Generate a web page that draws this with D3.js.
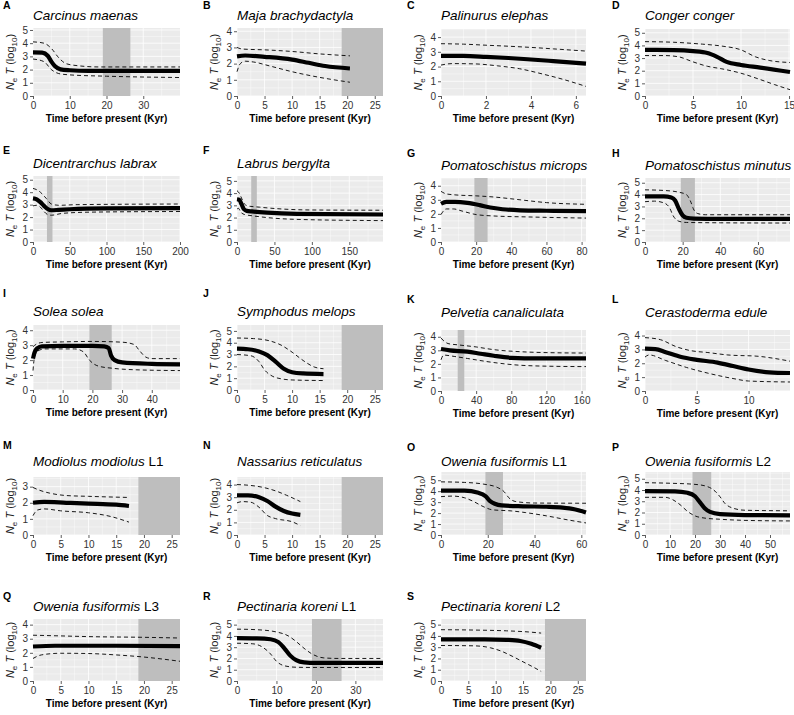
<!DOCTYPE html>
<html lang="en">
<head>
  <meta charset="UTF-8"/>
  <title>NeT through time</title>
  <script src="https://d3js.org/d3.v7.min.js"></script>
  <style>
    body { margin: 0; background: #fff; }
    svg { font-family: 'Liberation Sans', Arial, sans-serif; }
    .tick text { fill: #333; font-size: 10px; }
    .tick line { stroke: #333; stroke-width: 0.8; }
    .domain { display: none; }
  </style>
</head>
<body>
  <svg width="794" height="715"></svg>

  <script>

  const letters = ['A','B','C','D','E','F','G','H','I','J','K','L','M','N','O','P','Q','R','S'];
  const species = ['Carcinus maenas','Maja brachydactyla','Palinurus elephas','Conger conger',
    'Dicentrarchus labrax','Labrus bergylta','Pomatoschistus microps','Pomatoschistus minutus',
    'Solea solea','Symphodus melops','Pelvetia canaliculata','Cerastoderma edule',
    'Modiolus modiolus','Nassarius reticulatus','Owenia fusiformis','Owenia fusiformis',
    'Owenia fusiformis','Pectinaria koreni','Pectinaria koreni'];
  const lineage = ['','','','','','','','','','','','','L1','','L1','L2','L3','L1','L2'];

  const xMax = [40, 26.5, 6.45, 15.1, 200, 195, 82.5, 77, 49.5, 26.5, 165, 14, 26.5, 26.5, 62, 58, 26.5, 37, 26.5];
  const yMax = [5.15, 4.2, 4.55, 5.3, 5.3, 5.4, 4.55, 5.4, 4.35, 5.5, 4.5, 4.4, 3.6, 4.6, 5.75, 5.6, 4.4, 5.5, 5.5];

  const xTicks = [
    [0,10,20,30], [0,5,10,15,20,25], [0,2,4,6], [0,5,10,15],
    [0,50,100,150,200], [0,50,100,150], [0,20,40,60,80], [0,20,40,60],
    [0,10,20,30,40], [0,5,10,15,20,25], [0,40,80,120,160], [0,5,10],
    [0,5,10,15,20,25], [0,5,10,15,20,25], [0,20,40,60], [0,10,20,30,40,50],
    [0,5,10,15,20,25], [0,10,20,30], [0,5,10,15,20,25]
  ];
  const yTicks = [5,4,4,5, 5,5,4,5, 4,5,4,4, 3,4,5,5, 4,5,5].map(n => d3.range(0, n + 1));

  // Last Glacial Maximum (Kyr)
  const lgm = [19, 26.5];

  // [time (Kyr), log10 NeT]
  const medA = [[0,3.3],[2.5,3.28],[4,3.05],[5,2.6],[6,2.25],[7.5,2.02],[10,1.95],[15,1.9],[40,1.9]];
  const hiA = [[0,4.1],[3,4.0],[5,3.6],[7,2.9],[9,2.45],[12,2.3],[18,2.2],[40,2.2]];
  const loA = [[0,2.8],[3,2.6],[5,2.0],[7,1.7],[10,1.6],[20,1.5],[40,1.4]];

  const medB = [[0,2.45],[1.5,2.5],[5,2.42],[10,2.25],[13,2.05],[16,1.85],[20.5,1.7]];
  const hiB = [[0,3.0],[1,2.9],[5,2.85],[10,2.75],[15,2.6],[20.5,2.48]];
  const loB = [[0,1.5],[0.6,2.0],[1.5,2.15],[3,2.1],[6,1.85],[10,1.5],[15,1.15],[20.5,0.85]];

  const medC = [[0,2.72],[1,2.72],[2,2.66],[3,2.58],[4,2.48],[5,2.37],[6.45,2.2]];
  const hiC = [[0,3.55],[1,3.52],[2,3.45],[3,3.38],[4,3.3],[5,3.2],[6.45,3.05]];
  const loC = [[0,2.1],[0.5,2.2],[1.5,2.18],[2.5,2.05],[3.5,1.85],[4.5,1.5],[5.5,1.1],[6.45,0.65]];

  const medD = [[0,3.65],[3,3.63],[5,3.55],[6.5,3.4],[7.5,3.1],[8.5,2.7],[10,2.45],[12,2.25],[15.1,1.9]];
  const hiD = [[0,4.3],[3,4.25],[6,4.1],[8,3.95],[10,3.65],[11.5,3.1],[13,2.8],[15.1,2.65]];
  const loD = [[0,3.2],[2,3.2],[3.5,3.1],[5,2.7],[6.5,2.35],[8,2.15],[10,1.8],[12,1.3],[13.5,0.9],[15.1,0.5]];

  const medE = [[0,3.5],[5,3.42],[10,3.2],[15,2.9],[20,2.65],[25,2.55],[35,2.58],[50,2.63],[100,2.7],[200,2.72]];
  const hiE = [[0,4.3],[5,4.2],[10,4.0],[18,3.5],[25,3.05],[35,2.95],[60,3.0],[200,3.05]];
  const loE = [[0,2.9],[5,2.95],[10,2.8],[15,2.45],[20,2.2],[25,2.15],[40,2.3],[80,2.4],[200,2.45]];

  const medF = [[0,3.5],[3,3.45],[6,3.1],[9,2.7],[13,2.55],[20,2.5],[40,2.4],[80,2.3],[195,2.25]];
  const hiF = [[0,4.2],[3,4.0],[6,3.6],[10,3.1],[15,2.95],[30,2.85],[60,2.7],[100,2.62],[195,2.6]];
  const loF = [[0,2.7],[2,2.75],[5,2.45],[10,2.25],[20,2.15],[40,2.0],[80,1.85],[195,1.75]];

  const medG = [[0,2.72],[3,2.85],[8,2.85],[15,2.78],[22,2.62],[28,2.45],[35,2.33],[45,2.25],[60,2.22],[82.5,2.2]];
  const hiG = [[0,3.6],[3,3.42],[8,3.35],[20,3.28],[30,3.2],[45,3.0],[60,2.8],[82.5,2.68]];
  const loG = [[0,1.95],[3,2.35],[7,2.35],[12,2.2],[20,1.95],[30,1.85],[50,1.78],[82.5,1.7]];

  const medH = [[0,3.85],[10,3.85],[14,3.75],[16,3.5],[18,2.8],[20,2.25],[22,2.05],[26,1.98],[40,1.95],[77,1.95]];
  const hiH = [[0,4.4],[10,4.35],[18,4.2],[22,4.0],[24,3.5],[26,2.7],[28,2.4],[32,2.3],[77,2.3]];
  const loH = [[0,3.4],[5,3.45],[10,3.3],[13,2.9],[15,2.2],[18,1.75],[22,1.65],[40,1.62],[77,1.6]];

  const medI = [[0,2.1],[0.5,2.5],[1.5,2.8],[3,2.92],[10,2.95],[20,2.95],[24,2.92],[25.5,2.8],[26.3,2.3],[27.5,2.0],[30,1.85],[40,1.75],[49.5,1.72]];
  const hiI = [[0,2.9],[1,3.05],[3,3.18],[10,3.22],[20,3.25],[30,3.2],[34,3.05],[36,2.6],[38,2.2],[40,2.1],[49.5,2.1]];
  const loI = [[0,1.3],[0.5,2.2],[1.5,2.6],[4,2.75],[14,2.75],[17,2.55],[19,2.0],[22,1.6],[27,1.45],[35,1.35],[49.5,1.3]];

  const medJ = [[0,3.5],[2,3.45],[4,3.25],[5.5,2.95],[7,2.4],[8.5,1.8],[10,1.5],[12,1.4],[15.7,1.35]];
  const hiJ = [[0,4.4],[3,4.35],[6,4.15],[8,3.8],[10,3.2],[12,2.5],[14,1.95],[15.7,1.8]];
  const loJ = [[0,3.0],[2.5,2.9],[4,2.4],[5,1.7],[6.5,1.15],[8,0.95],[10,0.85],[15.7,0.8]];

  const medK = [[0,3.1],[10,3.0],[30,2.9],[45,2.75],[60,2.6],[80,2.45],[110,2.4],[165,2.4]];
  const hiK = [[0,3.9],[8,3.5],[20,3.4],[40,3.25],[60,3.05],[90,2.9],[130,2.82],[165,2.8]];
  const loK = [[0,2.3],[3,2.65],[15,2.55],[30,2.4],[60,2.1],[90,1.9],[130,1.82],[165,1.8]];

  const medL = [[0,3.05],[1,3.02],[2,2.8],[3.5,2.45],[5,2.25],[7,2.05],[8.5,1.8],[10,1.55],[12,1.35],[14,1.3]];
  const hiL = [[0,3.85],[1.5,3.7],[3,3.2],[4.5,2.9],[6,2.78],[8,2.6],[11,2.5],[12.5,2.35],[14,2.15]];
  const loL = [[0,2.45],[0.4,2.6],[2,2.2],[4,1.7],[6,1.3],[8.5,0.9],[10,0.72],[14,0.65]];

  const medM = [[0,2.0],[2,2.05],[6,2.0],[10,1.95],[15,1.88],[17.3,1.8]];
  const hiM = [[0,2.95],[1,2.8],[3,2.6],[6,2.45],[10,2.4],[17.3,2.33]];
  const loM = [[0,1.2],[0.8,1.55],[2,1.62],[5,1.5],[10,1.38],[14,1.15],[17.3,0.8]];

  const medN = [[0,3.15],[2,3.15],[4,3.0],[5.5,2.7],[7,2.25],[8.5,1.9],[10,1.7],[11.5,1.6]];
  const hiN = [[0,4.0],[2,3.95],[5,3.75],[7,3.5],[9,3.15],[11.5,2.65]];
  const loN = [[0,2.55],[1,2.65],[2.5,2.6],[4,2.2],[5.5,1.55],[7,1.3],[10,1.05],[11.5,0.75]];

  const medO = [[0,4.05],[10,4.05],[16,3.85],[19,3.55],[21,3.1],[23,2.85],[26,2.7],[35,2.62],[45,2.58],[52,2.5],[57,2.35],[62,2.05]];
  const hiO = [[0,4.85],[10,4.8],[18,4.65],[24,4.35],[27,3.95],[29,3.4],[32,3.05],[40,2.92],[62,2.9]];
  const loO = [[0,3.5],[5,3.55],[10,3.4],[14,3.05],[18,2.6],[22,2.3],[30,2.2],[36,2.05],[45,1.75],[55,1.35],[62,1.1]];

  const medP = [[0,3.9],[12,3.88],[17,3.75],[20,3.45],[22,2.9],[24,2.35],[26,2.05],[30,1.85],[40,1.77],[58,1.75]];
  const hiP = [[0,4.65],[10,4.6],[20,4.5],[25,4.3],[28,3.9],[30,3.4],[32,2.8],[35,2.4],[40,2.2],[58,2.15]];
  const loP = [[0,3.35],[8,3.35],[11,3.15],[14,2.7],[17,2.1],[20,1.7],[24,1.5],[30,1.4],[40,1.3],[58,1.25]];

  const medQ = [[0,2.45],[4,2.5],[15,2.5],[26.5,2.48]];
  const hiQ = [[0,3.25],[5,3.2],[10,3.15],[20,3.1],[26.5,3.05]];
  const loQ = [[0,1.6],[1.5,1.85],[5,1.97],[10,1.95],[15,1.85],[20,1.7],[26.5,1.4]];

  const medR = [[0,3.8],[5,3.78],[8.5,3.7],[10.5,3.45],[12,2.9],[13.5,2.25],[15,1.85],[17,1.65],[20,1.6],[37,1.6]];
  const hiR = [[0,4.6],[5,4.55],[10,4.35],[13,4.0],[15,3.5],[17,2.9],[19,2.4],[22,2.05],[26,2.0],[37,2.0]];
  const loR = [[0,3.35],[4,3.3],[6.5,3.0],[8.5,2.4],[10,1.75],[12,1.35],[15,1.22],[20,1.2],[37,1.2]];

  const medS = [[0,3.7],[8,3.7],[12,3.65],[14.5,3.55],[16.5,3.3],[18.3,2.95]];
  const hiS = [[0,4.55],[6,4.52],[12,4.45],[16,4.35],[18.3,4.25]];
  const loS = [[0,3.15],[6,3.12],[9,2.95],[11,2.65],[13,2.2],[15,1.7],[17,1.2],[18.3,0.85]];

  const median = [medA,medB,medC,medD,medE,medF,medG,medH,medI,medJ,medK,medL,medM,medN,medO,medP,medQ,medR,medS];
  const upper = [hiA,hiB,hiC,hiD,hiE,hiF,hiG,hiH,hiI,hiJ,hiK,hiL,hiM,hiN,hiO,hiP,hiQ,hiR,hiS];
  const lower = [loA,loB,loC,loD,loE,loF,loG,loH,loI,loJ,loK,loL,loM,loN,loO,loP,loQ,loR,loS];

  // layout: panel columns and rows (left pair / right pair)
  const colLeft = [33, 237, 441, 645];
  const colRight = [180, 383, 586, 790];
  const letterX = [3, 203, 407, 612];
  const rowGeo = [
    [{top: 28, bot: 96, title: 15, letter: 5}, {top: 29, bot: 96, title: 15, letter: 5}],
    [{top: 176, bot: 242, title: 163, letter: 150}, {top: 178, bot: 242, title: 165, letter: 153}],
    [{top: 325, bot: 390, title: 311, letter: 293}, {top: 330, bot: 391, title: 312, letter: 299}],
    [{top: 477, bot: 535, title: 461, letter: 445}, {top: 472, bot: 535, title: 461, letter: 447}],
    [{top: 619, bot: 681, title: 606, letter: 596}, {top: 619, bot: 681, title: 606, letter: 596}]
  ];

  const svg = d3.select('svg');

  letters.forEach((letter, i) => {
    const col = i % 4;
    const row = Math.floor(i / 4);
    const geo = rowGeo[row][col < 2 ? 0 : 1];
    const left = colLeft[col];
    const right = colRight[col];

    const x = d3.scaleLinear().domain([0, xMax[i]]).range([left, right]);
    const y = d3.scaleLinear().domain([0, yMax[i]]).range([geo.bot, geo.top]);

    const panel = svg.append('g');

    panel.append('rect')
      .attr('x', left).attr('y', geo.top)
      .attr('width', right - left).attr('height', geo.bot - geo.top)
      .attr('fill', '#ebebeb');

    // minor grid
    const xt = xTicks[i];
    const xStep = xt[1] - xt[0];
    const xMinor = d3.range(xStep / 2, xMax[i], xStep);
    const yMinor = d3.range(0.5, yMax[i], 1);
    panel.selectAll(null).data(xMinor).enter().append('line')
      .attr('x1', d => x(d)).attr('x2', d => x(d))
      .attr('y1', geo.top).attr('y2', geo.bot)
      .attr('stroke', '#fff').attr('stroke-width', 0.4);
    panel.selectAll(null).data(yMinor).enter().append('line')
      .attr('x1', left).attr('x2', right)
      .attr('y1', d => y(d)).attr('y2', d => y(d))
      .attr('stroke', '#fff').attr('stroke-width', 0.4);

    // major grid
    panel.selectAll(null).data(xt).enter().append('line')
      .attr('x1', d => x(d)).attr('x2', d => x(d))
      .attr('y1', geo.top).attr('y2', geo.bot)
      .attr('stroke', '#fff').attr('stroke-width', 0.8);
    panel.selectAll(null).data(yTicks[i]).enter().append('line')
      .attr('x1', left).attr('x2', right)
      .attr('y1', d => y(d)).attr('y2', d => y(d))
      .attr('stroke', '#fff').attr('stroke-width', 0.8);

    // LGM band
    if (xMax[i] > lgm[0]) {
      const x1 = Math.min(lgm[1], xMax[i]);
      panel.append('rect')
        .attr('x', x(lgm[0])).attr('y', geo.top)
        .attr('width', x(x1) - x(lgm[0])).attr('height', geo.bot - geo.top)
        .attr('fill', '#bebebe');
    }

    const line = d3.line()
      .x(d => x(d[0]))
      .y(d => y(d[1]))
      .curve(d3.curveMonotoneX);

    [upper[i], lower[i]].forEach(s => {
      panel.append('path')
        .attr('d', line(s))
        .attr('fill', 'none')
        .attr('stroke', '#000')
        .attr('stroke-width', 0.9)
        .attr('stroke-dasharray', '4,3');
    });

    panel.append('path')
      .attr('d', line(median[i]))
      .attr('fill', 'none')
      .attr('stroke', '#000')
      .attr('stroke-width', 4.2);

    // axes
    panel.append('g')
      .attr('transform', `translate(${left},0)`)
      .call(d3.axisLeft(y).tickValues(yTicks[i]).tickSize(3).tickPadding(2).tickFormat(d3.format('d')));

    panel.append('g')
      .attr('transform', `translate(0,${geo.bot})`)
      .call(d3.axisBottom(x).tickValues(xt).tickSize(3).tickPadding(3).tickFormat(d3.format('d')));

    panel.append('text')
      .attr('x', (left + right) / 2)
      .attr('y', geo.bot + 25.5)
      .attr('text-anchor', 'middle')
      .attr('font-size', 10)
      .attr('font-weight', 'bold')
      .text('Time before present (Kyr)');

    // y label  Ne T (log10)
    const yl = panel.append('text')
      .attr('transform', `translate(${left - 19},${(geo.top + geo.bot) / 2}) rotate(-90)`)
      .attr('text-anchor', 'middle')
      .attr('font-size', 11)
      .attr('fill', '#222');
    yl.append('tspan').attr('font-style', 'italic').text('N');
    yl.append('tspan').attr('font-size', 8).attr('dy', 2.5).text('e');
    yl.append('tspan').attr('font-style', 'italic').attr('dy', -2.5).text(' T');
    yl.append('tspan').text(' (log');
    yl.append('tspan').attr('font-size', 8).attr('dy', 2.5).text('10');
    yl.append('tspan').attr('dy', -2.5).text(')');

    // title
    const t = panel.append('text')
      .attr('x', left)
      .attr('y', geo.title + 5)
      .attr('font-size', 13.5);
    t.append('tspan').attr('font-style', 'italic').text(species[i]);
    if (lineage[i]) t.append('tspan').text(' ' + lineage[i]);

    panel.append('text')
      .attr('x', letterX[col])
      .attr('y', geo.letter + 4)
      .attr('font-size', 10.5)
      .attr('font-weight', 'bold')
      .text(letter);
  });

  </script>
</body>
</html>
